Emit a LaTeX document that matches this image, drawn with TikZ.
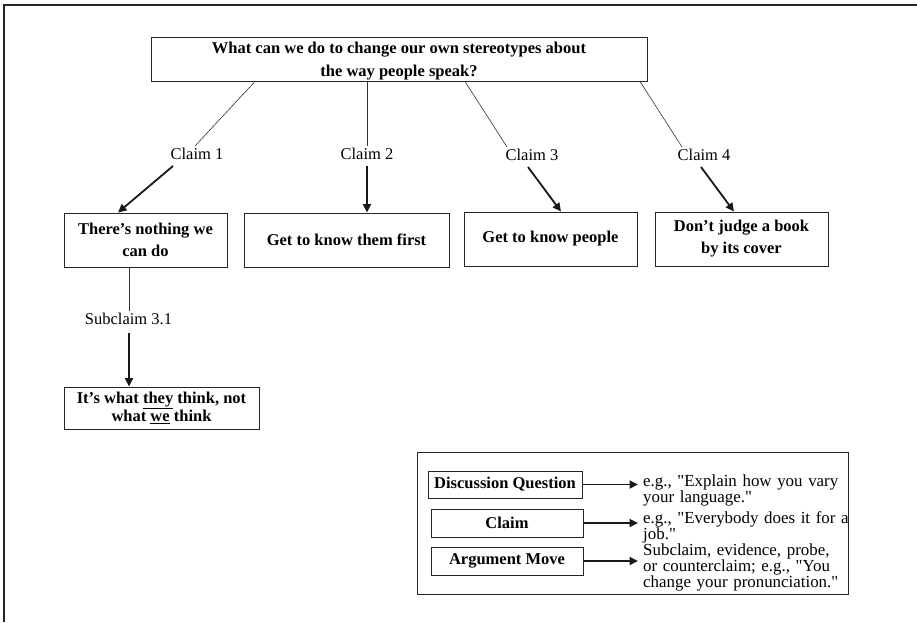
\documentclass[tikz,border=0pt]{standalone}
\usepackage{fontspec}
\setmainfont{Liberation Serif}
\newfontfamily\legfont{Liberation Serif}[Ligatures=TeXOff]
\usetikzlibrary{arrows.meta,calc}
\begin{document}
\begin{tikzpicture}[x=1pt,y=-1pt,
  box/.style={draw=black!85,line width=0.9pt,align=center,inner sep=0pt,
    font=\bfseries\fontsize{16.5}{22}\selectfont},
  lbl/.style={inner sep=2pt,font=\fontsize{16.5}{20}\selectfont},
  thinline/.style={line width=0.6pt,draw=black!80},
  thickarrow/.style={line width=1.8pt,draw=black!90,-{Triangle[length=8.5pt,width=8pt]}},
  legtext/.style={anchor=base west,inner sep=0pt,text width=260pt,align=left},
]
\useasboundingbox (0,0) rectangle (917,622);
% outer frame
\draw[line width=1.2pt,black!85] (917,5) -- (4,5) -- (4,622);

% top question
\node[box,minimum width=496pt,minimum height=44pt,font=\bfseries\fontsize{16.5}{23}\selectfont]
  (top) at (399,59) {\rule{0pt}{15pt}What can we do to change our own stereotypes about\\the way people speak?};

% claim labels
\node[lbl] (c1) at (197,154) {Claim 1};
\node[lbl] (c2) at (367,154) {Claim 2};
\node[lbl] (c3) at (532,155) {Claim 3};
\node[lbl] (c4) at (704,155) {Claim 4};

% claim boxes
\node[box,minimum width=163pt,minimum height=54pt] (b1) at (145.5,240) {There’s nothing we\\can do};
\node[box,minimum width=205pt,minimum height=54pt] (b2) at (346.5,240) {Get to know them first};
\node[box,minimum width=173pt,minimum height=54pt] (b3) at (550.5,239) {Get to know people};
\node[box,minimum width=173pt,minimum height=54pt] (b4) at (741.5,239) {Don’t judge a book\\by its cover};

% subclaim
\node[lbl] (s1) at (128.5,319) {Subclaim 3.1};
\node[box,minimum width=195pt,minimum height=42pt,font=\bfseries\fontsize{16.5}{14}\selectfont]
  (b5) at (161.5,408) {It’s what \underline{they} think, not\\what \underline{we} think};

% thin connectors
\draw[thinline] ([xshift=-144pt]top.south) -- ([xshift=-2pt]c1.north);
\draw[thinline] ([xshift=-32pt]top.south) -- (c2.north);
\draw[thinline] ([xshift=66pt]top.south) -- ([xshift=-25pt]c3.north);
\draw[thinline] ([xshift=241pt]top.south) -- ([xshift=-22pt]c4.north);
\draw[thinline] ([xshift=-16.5pt]b1.south) -- ([xshift=0.5pt]s1.north);

% thick arrows
\draw[thickarrow] ([xshift=-24pt,yshift=-4pt]c1.south) -- ([xshift=-27.5pt]b1.north);
\draw[thickarrow] ([yshift=-4pt]c2.south) -- ([xshift=20.5pt]b2.north);
\draw[thickarrow] ([xshift=-4pt,yshift=-4pt]c3.south) -- ([xshift=10.5pt]b3.north);
\draw[thickarrow] ([xshift=-3pt,yshift=-4pt]c4.south) -- ([xshift=-7.5pt]b4.north);
\draw[thickarrow] ([xshift=0.5pt,yshift=-6pt]s1.south) -- ([xshift=-32.5pt]b5.north);

% legend
\node[draw=black!85,line width=0.9pt,minimum width=431pt,minimum height=142pt,inner sep=0pt]
  (leg) at (632.5,523) {};
\node[box,minimum width=154pt,minimum height=27pt] (l1) at (505,484.5) {Discussion Question};
\node[box,minimum width=152pt,minimum height=28pt] (l2) at (507,523) {Claim};
\node[box,minimum width=152pt,minimum height=28pt] (l3) at (507,561) {Argument Move};

\node[legtext,font=\legfont\fontsize{16.9}{13}\selectfont] (t1) at (643,486)
  {e.g., "Explain how you vary\\your language."};
\node[legtext,font=\legfont\fontsize{16.9}{12.5}\selectfont] (t2) at (643,523)
  {e.g., "Everybody does it for a\\job."};
\node[legtext,font=\legfont\fontsize{16.9}{12.5}\selectfont] (t3) at (643,555)
  {Subclaim, evidence, probe,\\or counterclaim; e.g., "You\\change your pronunciation."};

\draw[thickarrow] (l1.east) -- ([xshift=-5pt]l1.east -| t1.west);
\draw[thickarrow] (l2.east) -- ([xshift=-5pt]l2.east -| t2.west);
\draw[thickarrow] (l3.east) -- ([xshift=-5pt]l3.east -| t3.west);
\end{tikzpicture}
\end{document}
